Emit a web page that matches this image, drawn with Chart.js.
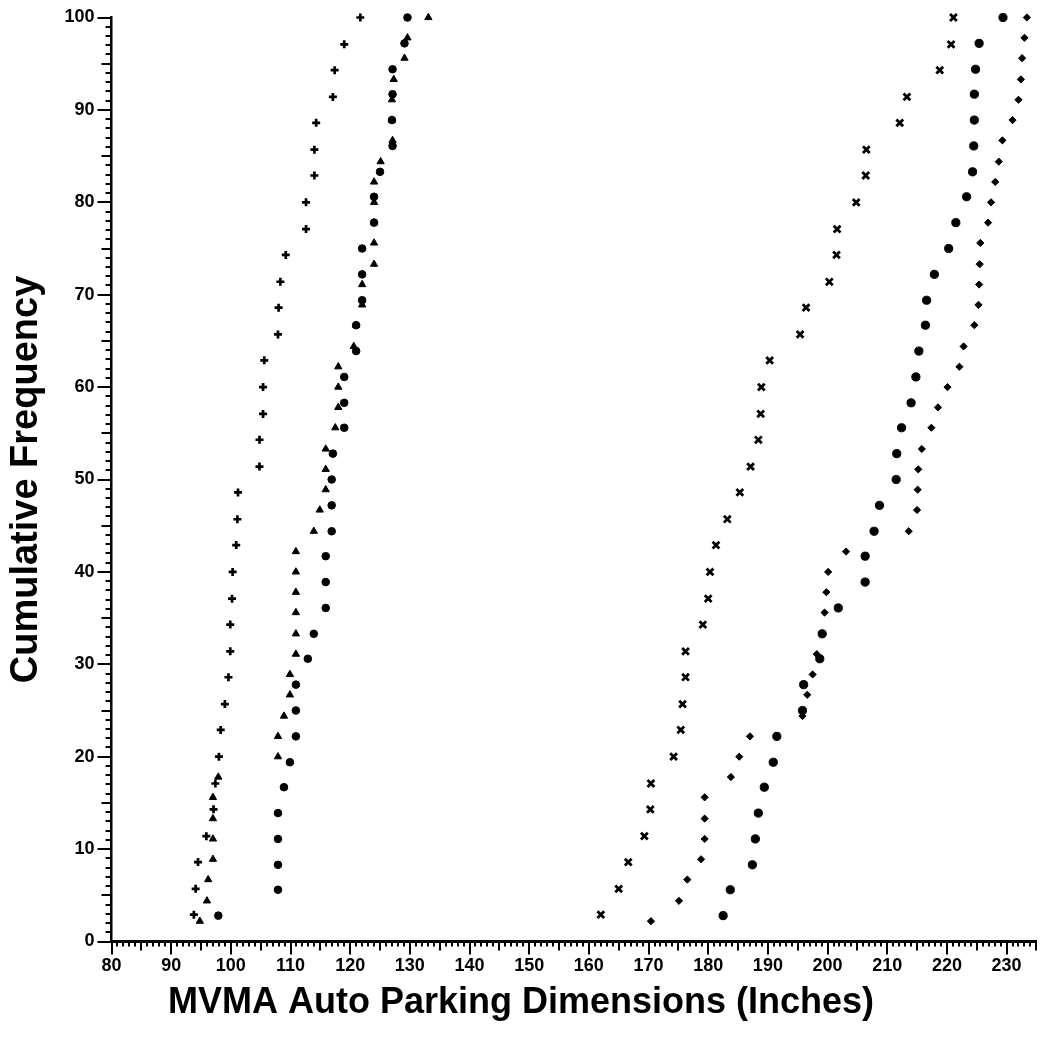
<!DOCTYPE html>
<html>
<head>
<meta charset="utf-8">
<script src="https://cdn.jsdelivr.net/npm/chart.js@4/dist/chart.umd.min.js"></script>
<style>
  html, body { margin: 0; padding: 0; background: #fff; }
  canvas { display: block; }
</style>
</head>
<body>
<canvas id="c" width="1044" height="1045"></canvas>
<script>
// Axis tick labels
const xTickValues = [80, 90, 100, 110, 120, 130, 140, 150, 160, 170, 180, 190, 200, 210, 220, 230];
const yTickValues = [0, 10, 20, 30, 40, 50, 60, 70, 80, 90, 100];

// Series "+" (35 cars)
const plusX = [93.8, 94.1, 94.5, 95.9, 97.1, 97.4, 98.0, 98.3, 99.0, 99.6, 99.9, 99.9, 100.2, 100.3, 100.9,
  101.1, 101.2, 104.8, 104.8, 105.4, 105.4, 105.6, 107.9, 108.0, 108.3, 109.2, 112.6, 112.6, 114.0, 114.0,
  114.3, 117.1, 117.4, 119.0, 121.7];
const plusY = [2.9, 5.7, 8.6, 11.4, 14.3, 17.1, 20.0, 22.9, 25.7, 28.6, 31.4, 34.3, 37.1, 40.0, 42.9,
  45.7, 48.6, 51.4, 54.3, 57.1, 60.0, 62.9, 65.7, 68.6, 71.4, 74.3, 77.1, 80.0, 82.9, 85.7,
  88.6, 91.4, 94.3, 97.1, 100.0];

// Series triangles (45 cars)
const triX = [94.8, 96.0, 96.2, 97.0, 97.0, 97.0, 97.0, 97.9, 107.9, 107.9, 108.9, 109.9, 109.9, 110.9, 110.9,
  110.9, 110.9, 110.9, 110.9, 113.9, 114.9, 115.9, 115.9, 115.9, 117.5, 118.0, 118.0, 118.0, 120.6, 121.0,
  122.0, 122.0, 124.0, 124.0, 124.0, 124.0, 124.0, 125.1, 127.1, 127.0, 127.0, 127.3, 129.1, 129.6, 133.1];
const triY = [2.2, 4.4, 6.7, 8.9, 11.1, 13.3, 15.6, 17.8, 20.0, 22.2, 24.4, 26.7, 28.9, 31.1, 33.3,
  35.6, 37.8, 40.0, 42.2, 44.4, 46.7, 48.9, 51.1, 53.3, 55.6, 57.8, 60.0, 62.2, 64.4, 66.7,
  68.9, 71.1, 73.3, 75.6, 77.8, 80.0, 82.2, 84.4, 86.7, 88.9, 91.1, 93.3, 95.6, 97.8, 100.0];

// Series dots, left group (36 cars)
const dotLX = [97.9, 107.9, 107.9, 107.9, 107.9, 108.9, 109.9, 110.9, 110.9, 110.9, 112.9, 113.9, 115.9, 115.9, 115.9,
  116.9, 116.9, 116.9, 117.1, 119.0, 119.0, 119.0, 121.0, 121.0, 122.0, 122.0, 122.0, 124.0, 124.0, 125.0,
  127.1, 127.0, 127.1, 127.1, 129.1, 129.6];
const dotLY = [2.8, 5.6, 8.3, 11.1, 13.9, 16.7, 19.4, 22.2, 25.0, 27.8, 30.6, 33.3, 36.1, 38.9, 41.7,
  44.4, 47.2, 50.0, 52.8, 55.6, 58.3, 61.1, 63.9, 66.7, 69.4, 72.2, 75.0, 77.8, 80.6, 83.3,
  86.1, 88.9, 91.7, 94.4, 97.2, 100.0];

// Series "x" (35 cars)
const crossX = [162.0, 165.0, 166.6, 169.3, 170.3, 170.4, 174.2, 175.4, 175.7, 176.2, 176.2, 179.1, 180.0, 180.3, 181.3,
  183.2, 185.3, 187.1, 188.4, 188.8, 188.9, 190.3, 195.4, 196.4, 200.3, 201.5, 201.6, 204.8, 206.4, 206.5,
  212.1, 213.3, 218.8, 220.7, 221.1];
const crossY = [2.9, 5.7, 8.6, 11.4, 14.3, 17.1, 20.0, 22.9, 25.7, 28.6, 31.4, 34.3, 37.1, 40.0, 42.9,
  45.7, 48.6, 51.4, 54.3, 57.1, 60.0, 62.9, 65.7, 68.6, 71.4, 74.3, 77.1, 80.0, 82.9, 85.7,
  88.6, 91.4, 94.3, 97.1, 100.0];

// Series diamonds (45 cars)
const diaX = [170.4, 175.1, 176.5, 178.8, 179.4, 179.4, 179.4, 183.8, 185.2, 187.0, 195.8, 196.6, 197.5, 198.2, 199.2,
  199.5, 199.8, 200.1, 203.1, 213.6, 215.0, 215.1, 215.2, 215.8, 217.4, 218.5, 220.1, 222.1, 222.8, 224.6,
  225.3, 225.4, 225.5, 225.6, 226.9, 227.4, 228.1, 228.7, 229.3, 231.0, 232.0, 232.4, 232.6, 233.0, 233.4];
const diaY = [2.2, 4.4, 6.7, 8.9, 11.1, 13.3, 15.6, 17.8, 20.0, 22.2, 24.4, 26.7, 28.9, 31.1, 33.3,
  35.6, 37.8, 40.0, 42.2, 44.4, 46.7, 48.9, 51.1, 53.3, 55.6, 57.8, 60.0, 62.2, 64.4, 66.7,
  68.9, 71.1, 73.3, 75.6, 77.8, 80.0, 82.2, 84.4, 86.7, 88.9, 91.1, 93.3, 95.6, 97.8, 100.0];

// Series dots, right group (36 cars)
const dotRX = [182.5, 183.7, 187.4, 187.9, 188.4, 189.4, 190.9, 191.5, 195.8, 196.0, 198.7, 199.1, 201.8, 206.3, 206.3,
  207.8, 208.7, 211.5, 211.6, 212.4, 214.0, 214.8, 215.3, 216.4, 216.6, 217.9, 220.3, 221.5, 223.3, 224.3,
  224.5, 224.6, 224.6, 224.8, 225.4, 229.4];
const dotRY = [2.8, 5.6, 8.3, 11.1, 13.9, 16.7, 19.4, 22.2, 25.0, 27.8, 30.6, 33.3, 36.1, 38.9, 41.7,
  44.4, 47.2, 50.0, 52.8, 55.6, 58.3, 61.1, 63.9, 66.7, 69.4, 72.2, 75.0, 77.8, 80.6, 83.3,
  86.1, 88.9, 91.7, 94.4, 97.2, 100.0];

const FONT = '"Liberation Sans", Arial, Helvetica, sans-serif';
const pts = (xs, ys) => xs.map((x, i) => ({ x: x, y: ys[i] }));

function series(xs, ys, style, radius, borderWidth) {
  return {
    data: pts(xs, ys),
    pointStyle: style,
    pointRadius: radius,
    pointHoverRadius: radius,
    pointBorderWidth: borderWidth,
    borderColor: '#000',
    backgroundColor: '#000',
    pointBackgroundColor: '#000',
    pointBorderColor: '#000',
    showLine: false,
    clip: false
  };
}

// Unit ticks along both axes: long at tens, medium at fives, short otherwise
const axisTicks = {
  id: 'axisTicks',
  afterDraw(chart) {
    const { ctx } = chart;
    const xs = chart.scales.x, ys = chart.scales.y;
    ctx.save();
    ctx.strokeStyle = '#000';
    ctx.lineWidth = 2;
    ctx.beginPath();
    for (let v = Math.ceil(xs.min); v <= xs.max; v++) {
      const px = Math.round(xs.getPixelForValue(v));
      const len = v % 10 === 0 ? 13 : (v % 5 === 0 ? 9 : 5);
      ctx.moveTo(px, ys.bottom);
      ctx.lineTo(px, ys.bottom + len);
    }
    for (let v = Math.ceil(ys.min); v <= ys.max; v++) {
      const py = Math.round(ys.getPixelForValue(v));
      const len = v % 10 === 0 ? 14 : (v % 5 === 0 ? 10 : 6);
      ctx.moveTo(xs.left, py);
      ctx.lineTo(xs.left - len, py);
    }
    ctx.stroke();
    ctx.restore();
  }
};

new Chart(document.getElementById('c'), {
  type: 'scatter',
  data: {
    datasets: [
      series(plusX, plusY, 'cross', 4.0, 2.7),
      series(triX, triY, 'triangle', 4.2, 1),
      series(dotLX, dotLY, 'circle', 3.8, 1),
      series(crossX, crossY, 'crossRot', 4.8, 2.8),
      series(diaX, diaY, 'rectRot', 3.6, 1),
      series(dotRX, dotRY, 'circle', 4.1, 1)
    ]
  },
  plugins: [axisTicks],
  options: {
    responsive: false,
    animation: false,
    devicePixelRatio: 1,
    layout: { padding: { top: 17.5, right: 2, left: 0, bottom: 0 } },
    plugins: {
      legend: { display: false },
      tooltip: { enabled: false },
      title: {
        display: true,
        position: 'bottom',
        text: 'MVMA Auto Parking Dimensions (Inches)',
        color: '#000',
        font: { family: FONT, size: 36, weight: 'bold' },
        padding: { top: 0, bottom: 20 }
      }
    },
    scales: {
      x: {
        type: 'linear',
        min: 80,
        max: 235,
        afterBuildTicks: (s) => { s.ticks = xTickValues.map(v => ({ value: v })); },
        afterFit: (s) => { s.height = 40.3; },
        grid: { display: false, drawTicks: true, tickLength: 14 },
        border: { display: true, color: '#000', width: 3 },
        ticks: {
          color: '#000',
          padding: 0,
          maxRotation: 0,
          autoSkip: false,
          font: { family: FONT, size: 18, weight: 'bold' }
        }
      },
      y: {
        type: 'linear',
        min: 0,
        max: 100,
        afterBuildTicks: (s) => { s.ticks = yTickValues.map(v => ({ value: v })); },
        afterFit: (s) => { s.width = 111.5; },
        grid: { display: false, drawTicks: true, tickLength: 14 },
        border: { display: true, color: '#000', width: 2.5 },
        ticks: {
          color: '#000',
          padding: 3,
          autoSkip: false,
          font: { family: FONT, size: 18, weight: 'bold' }
        },
        title: {
          display: true,
          text: 'Cumulative Frequency',
          color: '#000',
          font: { family: FONT, size: 38, weight: 'bold' },
          padding: { top: 3.5, bottom: 0 }
        }
      }
    }
  }
});
</script>
</body>
</html>
